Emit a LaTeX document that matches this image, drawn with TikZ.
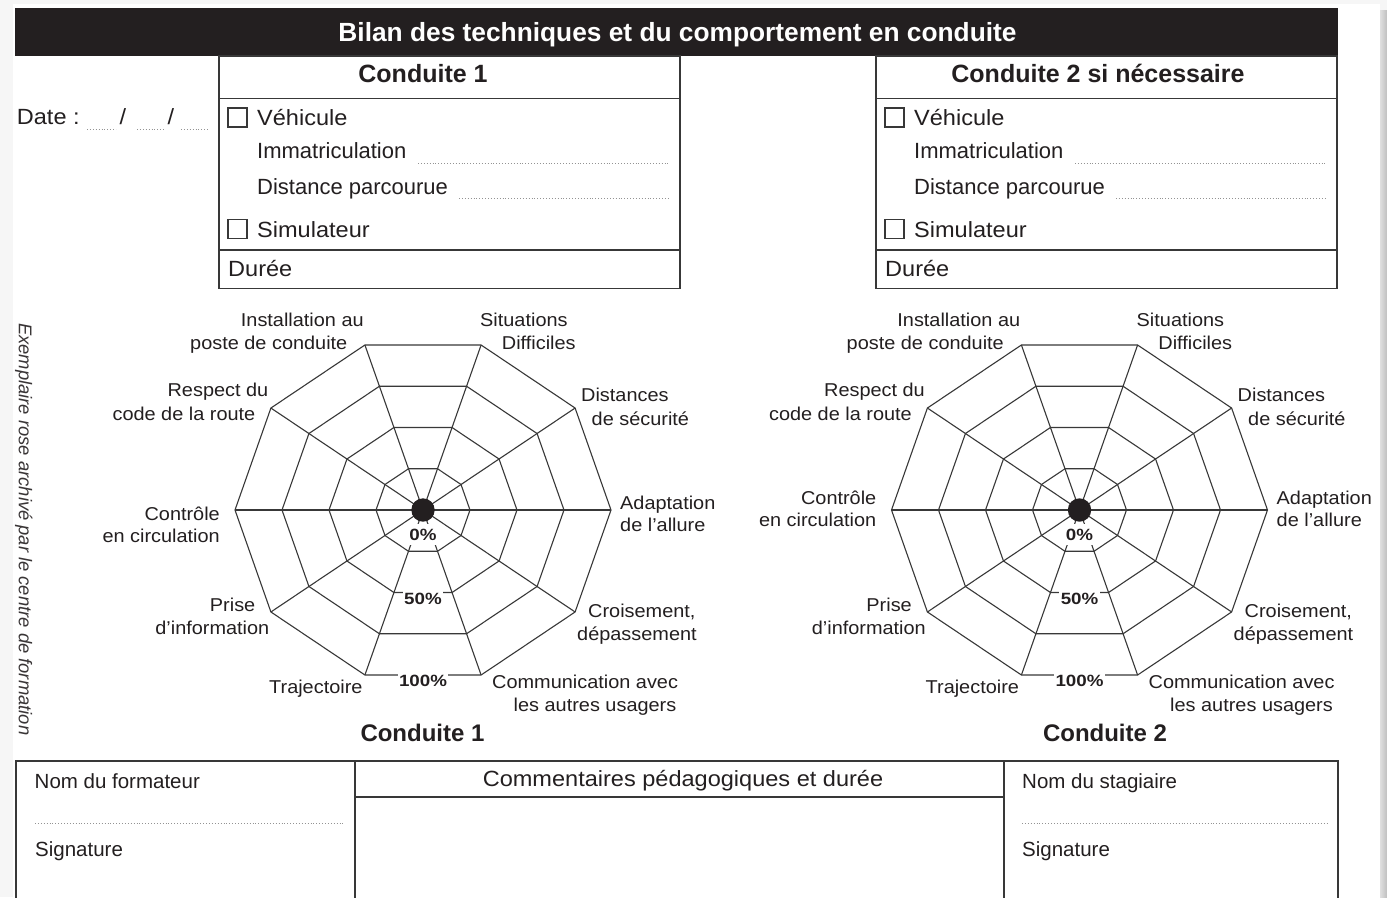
\documentclass[tikz,border=0pt]{standalone}
\usepackage{fontspec}
\setmainfont{Liberation Sans}
\newfontfamily\widefont{Liberation Sans}[FakeStretch=1.07]
\newfontfamily\pctfont{Liberation Sans}[FakeStretch=1.15]
\definecolor{ink}{HTML}{231F20}
\definecolor{rulec}{HTML}{383838}
\tikzset{
  boxline/.style={draw=rulec, line width=1.4pt},
  gridline/.style={draw=rulec, line width=1.1pt, line join=miter},
  dotline/.style={draw=gray!85, line width=0.9pt, dash pattern=on 0.9pt off 2pt},
  chk/.style={draw=rulec, line width=1.2pt, minimum size=19pt, inner sep=0pt},
  lbl/.style={font=\widefont\fontsize{18.6}{22}\selectfont, text=ink, inner sep=0pt},
  boxtxt/.style={font=\fontsize{22}{26}\selectfont, text=ink, inner sep=0pt},
  boxwide/.style={font=\widefont\fontsize{22}{26}\selectfont, text=ink, inner sep=0pt},
  tabtxt/.style={font=\fontsize{20.5}{24}\selectfont, text=ink, inner sep=0pt},
  btitle/.style={font=\bfseries\fontsize{25}{30}\selectfont, text=ink, inner sep=0pt},
  ctitle/.style={font=\bfseries\fontsize{24}{30}\selectfont, text=ink, inner sep=0pt},
  pct/.style={font=\pctfont\bfseries\fontsize{16.3}{19}\selectfont, text=ink, fill=white, inner xsep=1.5pt, inner ysep=3pt},
}
% radar grid: #1 cx, #2 cy, #3 prefix
\newcommand\radarchart[3]{%
  \foreach \k in {1,2,3,4}{%
    \draw[gridline] ({#1+47*\k},{#2}) \foreach \a in {36,72,...,324}{ -- ({#1+47*\k*cos(\a)},{#2+43.375*\k*sin(\a)}) } -- cycle;
  }%
  \foreach \a in {0,36,...,324}{%
    \draw[gridline] (#1,#2) -- ({#1+188*cos(\a)},{#2+173.5*sin(\a)});
  }%
  \node[pct, inner ysep=5pt] (#3p0) at (#1,{#2+24.7}) {0\%};
  \node[pct] (#3p50) at (#1,{#2+89.3}) {50\%};
  \node[pct] (#3p100) at (#1,{#2+170.7}) {100\%};
  \fill[ink] (#1,#2) circle[radius=11.7pt];
}
% labels: #1 dx, #2 prefix, #3 ctrl baseline shift, #4 adap baseline shift
\newcommand\chartlabels[4]{%
  \node[lbl, anchor=base west] (#2inst1) at ({#1+240.7},326.5) {Installation au};
  \node[lbl, anchor=base west] (#2inst2) at ({#1+190},349.5) {poste de conduite};
  \node[lbl, anchor=base west] (#2sit1) at ({#1+480},326.5) {Situations};
  \node[lbl, anchor=base west] (#2sit2) at ({#1+501.7},349.5) {Difficiles};
  \node[lbl, anchor=base east] (#2resp1) at ({#1+268.5},396.7) {Respect du};
  \node[lbl, anchor=base east] (#2resp2) at ({#1+255.5},420) {code de la route};
  \node[lbl, anchor=base west] (#2dist1) at ({#1+581},401.5) {Distances};
  \node[lbl, anchor=base west] (#2dist2) at ({#1+591.5},425.5) {de sécurité};
  \node[lbl, anchor=base east] (#2ctrl1) at ({#1+220},{520+#3}) {Contrôle};
  \node[lbl, anchor=base east] (#2ctrl2) at ({#1+220},{542+#3}) {en circulation};
  \node[lbl, anchor=base west] (#2adap1) at ({#1+620},{509+#4}) {Adaptation};
  \node[lbl, anchor=base west] (#2adap2) at ({#1+620},{531.5+#4}) {de l’allure};
  \node[lbl, anchor=base east] (#2prise1) at ({#1+255.5},611.5) {Prise};
  \node[lbl, anchor=base east] (#2prise2) at ({#1+269.5},634) {d’information};
  \node[lbl, anchor=base west] (#2croi1) at ({#1+588},617.3) {Croisement,};
  \node[lbl, anchor=base west] (#2croi2) at ({#1+577},640) {dépassement};
  \node[lbl, anchor=base west] (#2traj) at ({#1+269},693.5) {Trajectoire};
  \node[lbl, anchor=base west] (#2comm1) at ({#1+492},688.3) {Communication avec};
  \node[lbl, anchor=base west] (#2comm2) at ({#1+513.5},711) {les autres usagers};
}
% vehicle box: #1 dx, #2 prefix
\newcommand\vehiclebox[2]{%
  \draw[boxline] ({#1+219},56) rectangle ({#1+680},288.5);
  \draw[boxline] ({#1+219},98.3) -- ({#1+680},98.3);
  \draw[boxline] ({#1+219},250) -- ({#1+680},250);
  \node[chk] (#2c1) at ({#1+237.5},117.5) {};
  \node[boxwide, anchor=base west] (#2veh) at ({#1+257},125.5) {Véhicule};
  \node[boxtxt, anchor=base west] (#2imm) at ({#1+257},158) {Immatriculation};
  \draw[dotline] ({#1+418},163.3) -- ({#1+668},163.3);
  \node[boxtxt, anchor=base west] (#2dis) at ({#1+257},194) {Distance parcourue};
  \draw[dotline] ({#1+459},198.3) -- ({#1+668},198.3);
  \node[chk] (#2c2) at ({#1+237.5},229.3) {};
  \node[boxwide, anchor=base west] (#2sim) at ({#1+257},237.5) {Simulateur};
  \node[boxwide, anchor=base west] (#2dur) at ({#1+228},276) {Durée};
}
\begin{document}
\begin{tikzpicture}[x=1pt, y=-1pt]
\useasboundingbox (0,0) rectangle (1387,897);
% page background and shadow
\fill[gray!7] (0,0) rectangle (1387,897);
\fill[white] (13,4) rectangle (1380,897);
\shade[left color=gray!25, right color=gray!50] (1380,10) rectangle (1387,897);
% header
\fill[ink] (15,8) rectangle (1338,56);
\node[font=\bfseries\fontsize{26.3}{30}\selectfont, text=white, anchor=base, inner sep=0pt] (title) at (677.5,41.7) {Bilan des techniques et du comportement en conduite};
% vehicle boxes
\vehiclebox{0}{a}
\vehiclebox{657}{b}
\node[btitle, anchor=base] (c1head) at (423,82) {Conduite 1};
\node[btitle, anchor=base] (c2head) at (1098,82) {Conduite 2 si nécessaire};
% date
\node[boxwide, anchor=base west] (date) at (16.7,124) {Date :};
\draw[dotline] (87,129.3) -- (116,129.3);
\node[boxwide, anchor=base] (sl1) at (123,124) {/};
\draw[dotline] (137,129.3) -- (164,129.3);
\node[boxwide, anchor=base] (sl2) at (171,124) {/};
\draw[dotline] (181,129.3) -- (209,129.3);
% side text
\node[rotate=-90, anchor=base west, font=\itshape\fontsize{18.4}{22}\selectfont, text=ink!90, inner sep=0pt] (arch) at (19,323) {Exemplaire rose archivé par le centre de formation};
% charts
\radarchart{423}{510}{r1}
\radarchart{1079.5}{510}{r2}
\chartlabels{0}{l1}{0}{0}
\chartlabels{656.5}{l2}{-16}{-5}
\node[ctitle, anchor=base] (t1) at (422.5,741) {Conduite 1};
\node[ctitle, anchor=base] (t2) at (1105,741) {Conduite 2};
% bottom table
\draw[boxline] (16,900) -- (16,761) -- (1338,761) -- (1338,900);
\draw[boxline] (355,761) -- (355,900);
\draw[boxline] (1004,761) -- (1004,900);
\draw[boxline] (355,797) -- (1004,797);
\node[boxwide, anchor=base] (comm) at (683,786) {Commentaires pédagogiques et durée};
\node[tabtxt, anchor=base west] (nf) at (34.5,788.3) {Nom du formateur};
\draw[dotline] (35,823) -- (345,823);
\node[tabtxt, anchor=base west] (sf) at (35,856.5) {Signature};
\node[tabtxt, anchor=base west] (ns) at (1022,788.3) {Nom du stagiaire};
\draw[dotline] (1022,823) -- (1328,823);
\node[tabtxt, anchor=base west] (ss) at (1022,856.5) {Signature};
\end{tikzpicture}
\end{document}
